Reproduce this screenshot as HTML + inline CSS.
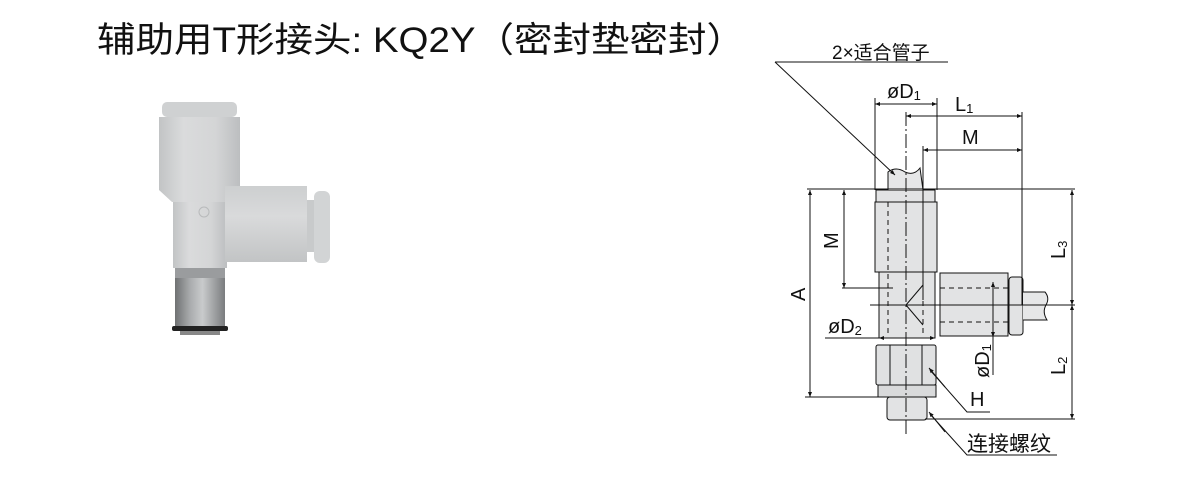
<!DOCTYPE html>
<html><head><meta charset="utf-8"><style>
html,body{margin:0;padding:0;background:#fff;width:1200px;height:500px;overflow:hidden}
svg{display:block}
.t{font-size:20px;fill:#111}
.s{font-size:13px}
</style></head><body>
<svg width="1200" height="500" viewBox="0 0 1200 500" xmlns="http://www.w3.org/2000/svg" font-family="'Liberation Sans','Noto Sans CJK SC',sans-serif">
<defs>
<linearGradient id="gv" x1="0" x2="1" y1="0" y2="0">
<stop offset="0" stop-color="#c2c4c5"/><stop offset="0.3" stop-color="#dadbdc"/><stop offset="0.7" stop-color="#d4d5d6"/><stop offset="1" stop-color="#bcbec0"/></linearGradient>
<linearGradient id="gh" x1="0" x2="0" y1="0" y2="1">
<stop offset="0" stop-color="#cdcfd0"/><stop offset="0.4" stop-color="#d9dadb"/><stop offset="1" stop-color="#c2c4c5"/></linearGradient>
<linearGradient id="gm" x1="0" x2="1" y1="0" y2="0">
<stop offset="0" stop-color="#6f7172"/><stop offset="0.3" stop-color="#a9abad"/><stop offset="0.55" stop-color="#c9cbcc"/><stop offset="1" stop-color="#7a7c7e"/></linearGradient>
<marker id="ar" viewBox="0 0 10 10" refX="10" refY="5" markerWidth="9" markerHeight="5" orient="auto-start-reverse" markerUnits="userSpaceOnUse"><path d="M0,1 L10,5 L0,9 Z" fill="#111"/></marker>
</defs>

<text x="97" y="52" style="font-size:35px" fill="#111" textLength="648" lengthAdjust="spacingAndGlyphs">辅助用T形接头: KQ2Y（密封垫密封）</text>

<!-- photo -->
<g>
<rect x="175" y="265" width="50" height="62" fill="url(#gm)"/>
<rect x="175" y="268" width="50" height="10" fill="#9a9c9e"/>
<rect x="172" y="326" width="56" height="5" rx="2" fill="#222"/>
<rect x="180" y="331" width="40" height="4" fill="#888"/>
<rect x="173" y="200" width="54" height="68" fill="url(#gv)"/>
<path d="M159,117 L240,117 L240,190 L228,202 L172,202 L159,190 Z" fill="url(#gv)"/>
<rect x="162" y="102" width="75" height="15" rx="5" fill="#cfd1d2"/>
<rect x="225" y="186" width="82" height="76" fill="url(#gh)"/>
<rect x="307" y="200" width="8" height="52" fill="#c8cacb"/>
<rect x="314" y="191" width="16" height="72" rx="6" fill="#d2d4d5"/>
<circle cx="204" cy="212" r="5" fill="none" stroke="#b8babb"/>
</g>

<g stroke="#111" stroke-width="1" fill="none">
<rect x="887" y="397" width="40" height="23" rx="3" fill="#e2e3e4"/>
<rect x="878" y="385" width="58" height="12" fill="#d9dadb"/>
<rect x="876" y="345" width="60" height="40" rx="2" fill="#e0e1e2"/>
<line x1="890" y1="345" x2="890" y2="385"/><line x1="922" y1="345" x2="922" y2="385"/>
<rect x="879" y="272" width="56" height="66" fill="#e2e3e4"/>
<rect x="875" y="202" width="62" height="70" fill="#e2e3e4"/>
<rect x="876" y="190" width="59" height="12" fill="#e2e3e4"/>
<rect x="940" y="273" width="68" height="63" fill="#e2e3e4"/>
<rect x="1009" y="277" width="14" height="58" rx="3" fill="#e2e3e4"/>
<path d="M1023,292 L1045,292 Q1050,298 1046,305 Q1042,312 1047,320 L1023,320" fill="#e6e7e8"/>
<path d="M888,190 L888,172 Q896,166 905,172 Q914,176 920,168 L923,190" fill="#e6e7e8"/>
<path d="M906,305 L923,285 M906,305 L923,325" />
<g stroke-dasharray="5,4">
<line x1="888" y1="202" x2="888" y2="335"/><line x1="923" y1="202" x2="923" y2="335"/>
<line x1="940" y1="288" x2="1008" y2="288"/><line x1="940" y1="322" x2="1008" y2="322"/>
</g>
<line x1="906" y1="112" x2="906" y2="435" stroke-dasharray="14,3,2,3"/>
<line x1="870" y1="305" x2="1075" y2="305"/>
<line x1="875" y1="98" x2="875" y2="190"/>
<line x1="937" y1="98" x2="937" y2="190"/>
<line x1="923" y1="146" x2="923" y2="300"/>
<line x1="1022" y1="112" x2="1022" y2="305"/>
<line x1="807" y1="189" x2="1075" y2="189"/>
<line x1="805" y1="397" x2="880" y2="397"/>
<line x1="842" y1="288" x2="893" y2="288"/>
<line x1="925" y1="419" x2="1075" y2="419"/>
<line x1="875" y1="104" x2="937" y2="104" marker-start="url(#ar)" marker-end="url(#ar)"/>
<line x1="906" y1="116" x2="1022" y2="116" marker-start="url(#ar)" marker-end="url(#ar)"/>
<line x1="923" y1="150" x2="1022" y2="150" marker-start="url(#ar)" marker-end="url(#ar)"/>
<line x1="810" y1="190" x2="810" y2="397" marker-start="url(#ar)" marker-end="url(#ar)"/>
<line x1="844" y1="190" x2="844" y2="288" marker-start="url(#ar)" marker-end="url(#ar)"/>
<line x1="1072" y1="190" x2="1072" y2="305" marker-start="url(#ar)" marker-end="url(#ar)"/>
<line x1="1072" y1="305" x2="1072" y2="419" marker-start="url(#ar)" marker-end="url(#ar)"/>
<line x1="825" y1="338" x2="933" y2="338"/>
<line x1="900" y1="338" x2="879" y2="338" marker-end="url(#ar)"/>
<line x1="915" y1="338" x2="935" y2="338" marker-end="url(#ar)"/>
<line x1="993" y1="282" x2="993" y2="375"/>
<line x1="993" y1="300" x2="993" y2="282" marker-end="url(#ar)"/>
<line x1="993" y1="318" x2="993" y2="337" marker-end="url(#ar)"/>
<line x1="775" y1="62" x2="948" y2="62"/>
<line x1="775" y1="62" x2="895" y2="175" marker-end="url(#ar)"/>
<polyline points="990,412 967,412 930,370"/>
<line x1="945" y1="387" x2="929" y2="368" marker-end="url(#ar)"/>
<polyline points="1057,455 967,455 930,414"/>
<line x1="945" y1="432" x2="929" y2="412" marker-end="url(#ar)"/>
</g>

<text class="t" x="832" y="59" style="font-size:19px">2×适合管子</text>
<text class="t" x="887" y="98">øD<tspan class="s" dy="2">1</tspan></text>
<text class="t" x="955" y="111">L<tspan class="s" dy="2">1</tspan></text>
<text class="t" x="962" y="144">M</text>
<text class="t" x="828" y="333">øD<tspan class="s" dy="2">2</tspan></text>
<text class="t" x="970" y="406">H</text>
<text class="t" x="967" y="451" style="font-size:21px">连接螺纹</text>
<text class="t" transform="translate(805,301) rotate(-90)">A</text>
<text class="t" transform="translate(838,249) rotate(-90)">M</text>
<text class="t" transform="translate(1065,259) rotate(-90)">L<tspan class="s" dy="2">3</tspan></text>
<text class="t" transform="translate(1065,375) rotate(-90)">L<tspan class="s" dy="2">2</tspan></text>
<text class="t" transform="translate(989,378) rotate(-90)">øD<tspan class="s" dy="2">1</tspan></text>
</svg>
</body></html>
